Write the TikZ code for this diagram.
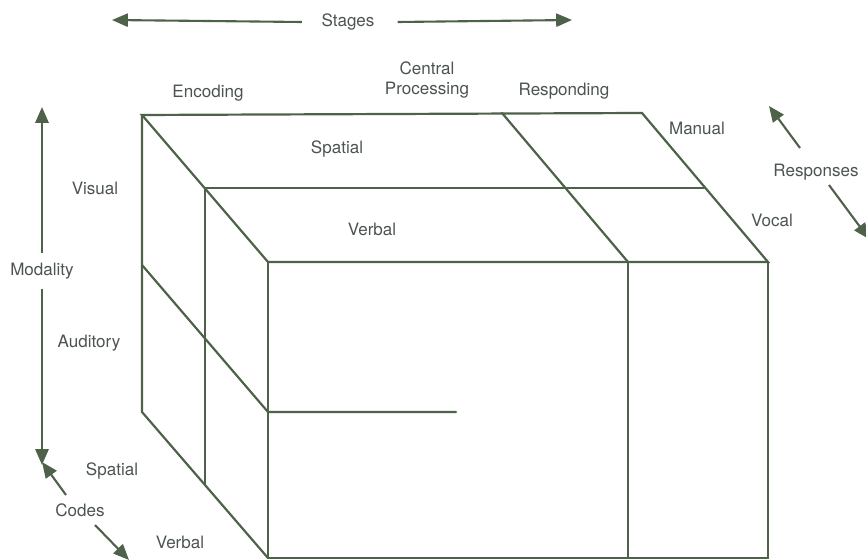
\documentclass[tikz,border=0pt]{standalone}
\usepackage{fontspec}
\setmainfont{TeX Gyre Heros}
\usetikzlibrary{arrows.meta}
\usetikzlibrary{positioning}
\definecolor{boxline}{RGB}{78,98,74}
\definecolor{labeltext}{RGB}{76,84,78}
\tikzset{
  edge/.style={boxline, line width=1.25pt, line cap=round},
  axis/.style={boxline, line width=1.2pt, -{Triangle[length=9pt,width=7.5pt]}},
  lbl/.style={labeltext, font=\fontsize{9.7}{11}\selectfont, inner sep=1pt, align=center}
}

\begin{document}
\begin{tikzpicture}[x=0.02cm, y=-0.02cm]
\useasboundingbox (0,0) rectangle (866,560);
% the box
\draw[edge] (142,115) -- (642,113) -- (768,262) -- (268,262) -- cycle;
\draw[edge] (268,262) -- (268,558) -- (768,558) -- (768,262);
\draw[edge] (142,115) -- (142,412) -- (268,558);
\draw[edge] (628,262) -- (628,558);
\draw[edge] (502,113) -- (628,262);
\draw[edge] (205,188) -- (704,188);
\draw[edge] (205,188) -- (205,485);
\draw[edge] (142,265) -- (268,412) -- (456,412);
% labels
\node[lbl] (stages) at (348,22) {Stages};
\node[lbl] (encoding) at (208,93) {Encoding};
\node[lbl] (central) at (427,80) {Central\\Processing};
\node[lbl] (responding) at (564,91) {Responding};
\node[lbl] (manual) at (697,128) {Manual};
\node[lbl] (vocal) at (772,220) {Vocal};
\node[lbl] (responses) at (816,172) {Responses};
\node[lbl] (topspatial) at (337,149) {Spatial};
\node[lbl] (topverbal) at (372,229) {Verbal};
\node[lbl] (visual) at (95,188) {Visual};
\node[lbl] (modality) at (42,271) {Modality};
\node[lbl] (auditory) at (89,343) {Auditory};
\node[lbl] (sidespatial) at (112,471) {Spatial};
\node[lbl] (codes) at (80,510) {Codes};
\node[lbl] (sideverbal) at (180,542) {Verbal};
% arrow ends
\coordinate (stagesL) at (112,20);
\coordinate (stagesR) at (572,20);
\coordinate (modU) at (42,107);
\coordinate (modD) at (42,465);
\coordinate (respU) at (769,106);
\coordinate (respD) at (869,239);
\coordinate (codesU) at (42,462);
\coordinate (codesD) at (129,560);
\draw[axis] ([xshift=-10pt]stages.west) -- (stagesL);
\draw[axis] ([xshift=12pt]stages.east) -- (stagesR);
\draw[axis] (modality.north) ++(0,-8) -- (modU);
\draw[axis] (modality.south) ++(0,8) -- (modD);
\draw[axis] (800,148) -- (respU);
\draw[axis] (829,185) -- (respD);
\draw[axis] (66,495) -- (codesU);
\draw[axis] (95,525) -- (codesD);
\end{tikzpicture}
\end{document}
